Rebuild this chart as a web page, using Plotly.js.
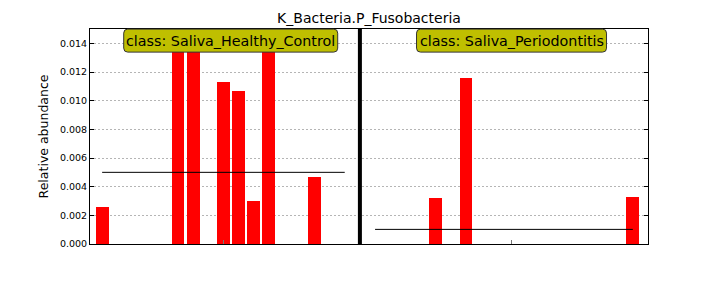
<!DOCTYPE html>
<html>
<head>
<meta charset="utf-8">
<script src="https://cdn.plot.ly/plotly-3.0.1.min.js"></script>
<style>html,body{margin:0;padding:0;background:#fff;}#chart{width:720px;height:288px;}</style>
</head>
<body>
<div id="chart"></div>
<script>
// Sample slot positions and relative abundances (zero-valued samples omitted)
var healthyPos = [0, 5, 6, 8, 9, 10, 11, 14];
var healthyVal = [0.0026, 0.0200, 0.0200, 0.0113, 0.0107, 0.0030, 0.0145, 0.0047];
var perioPos = [22, 24, 35];
var perioVal = [0.0032, 0.0116, 0.00325];
// Class mean lines: [start slot, end slot], value
var healthyRange = [0, 16];
var perioRange = [18, 35];
var classMeans = [0.0050, 0.00102];
var classNames = ['class: Saliva_Healthy_Control', 'class: Saliva_Periodontitis'];
var classCenters = [8.48, 27.0];
var classTicks = [8, 27];
var dividerPos = 17;
var yTicks = [0, 0.002, 0.004, 0.006, 0.008, 0.010, 0.012, 0.014];

var font = 'DejaVu Sans, sans-serif';

var traces = [
  {type: 'bar', x: healthyPos, y: healthyVal, width: 0.85, marker: {color: '#ff0000', line: {width: 0}}, hoverinfo: 'none'},
  {type: 'bar', x: perioPos, y: perioVal, width: 0.85, marker: {color: '#ff0000', line: {width: 0}}, hoverinfo: 'none'},
  {type: 'scatter', mode: 'lines', x: healthyRange, y: [classMeans[0], classMeans[0]], line: {color: '#000', width: 1}, hoverinfo: 'none'},
  {type: 'scatter', mode: 'lines', x: perioRange, y: [classMeans[1], classMeans[1]], line: {color: '#000', width: 1}, hoverinfo: 'none'}
];

function roundRect(w, h, r) {
  var a = w / 2, b = h / 2;
  return 'M ' + (-a + r) + ',' + (-b) + ' L ' + (a - r) + ',' + (-b) +
    ' Q ' + a + ',' + (-b) + ' ' + a + ',' + (-b + r) +
    ' L ' + a + ',' + (b - r) + ' Q ' + a + ',' + b + ' ' + (a - r) + ',' + b +
    ' L ' + (-a + r) + ',' + b + ' Q ' + (-a) + ',' + b + ' ' + (-a) + ',' + (b - r) +
    ' L ' + (-a) + ',' + (-b + r) + ' Q ' + (-a) + ',' + (-b) + ' ' + (-a + r) + ',' + (-b) + ' Z';
}
var boxWidths = [214, 190];

var shapes = [
  {type: 'line', xref: 'x', yref: 'paper', x0: dividerPos, x1: dividerPos, y0: 0, y1: 1, line: {color: '#000', width: 4}, layer: 'above'}
];
classNames.forEach(function(t, i) {
  shapes.push({
    type: 'path', layer: 'above',
    xref: 'x', yref: 'paper', xsizemode: 'pixel', ysizemode: 'pixel',
    xanchor: classCenters[i], yanchor: 0.946,
    path: roundRect(boxWidths[i], 23, 4),
    fillcolor: '#bfbf00', line: {color: '#333', width: 1}
  });
});

var layout = {
  width: 720, height: 288,
  margin: {l: 90, r: 72, t: 29, b: 44, pad: 0},
  paper_bgcolor: '#fff', plot_bgcolor: '#fff',
  showlegend: false,
  bargap: 0,
  title: {text: 'K_Bacteria.P_Fusobacteria', font: {family: font, size: 14, color: '#000'}, x: 0.5125, xanchor: 'center', y: 0.937, yanchor: 'middle'},
  xaxis: {
    range: [-0.8, 36], showgrid: false, zeroline: false,
    tickvals: classTicks, ticktext: ['', ''],
    ticks: 'inside', ticklen: 4, tickcolor: '#777', tickwidth: 1,
    showline: true, linecolor: '#000', linewidth: 1, mirror: 'ticks'
  },
  yaxis: {
    range: [0, 0.015], tickvals: yTicks, tickformat: '.3f',
    ticks: 'inside', ticklen: 4, tickcolor: '#000', tickwidth: 1,
    showline: true, linecolor: '#000', linewidth: 1, mirror: 'ticks',
    showgrid: true, gridcolor: '#b5b5b5', griddash: '2px,2px', gridwidth: 1,
    zeroline: false,
    tickfont: {family: font, size: 9.5, color: '#000'},
    title: {text: 'Relative abundance', font: {family: font, size: 12.5, color: '#000'}, standoff: 8}
  },
  shapes: shapes,
  annotations: classNames.map(function(t, i) {
    return {
      text: t, xref: 'x', yref: 'paper', x: classCenters[i], y: 0.946,
      xanchor: 'center', yanchor: 'middle', showarrow: false,
      font: {family: font, size: 14.3, color: '#000'}
    };
  })
};

Plotly.newPlot('chart', traces, layout, {staticPlot: true, displayModeBar: false});
</script>
</body>
</html>
